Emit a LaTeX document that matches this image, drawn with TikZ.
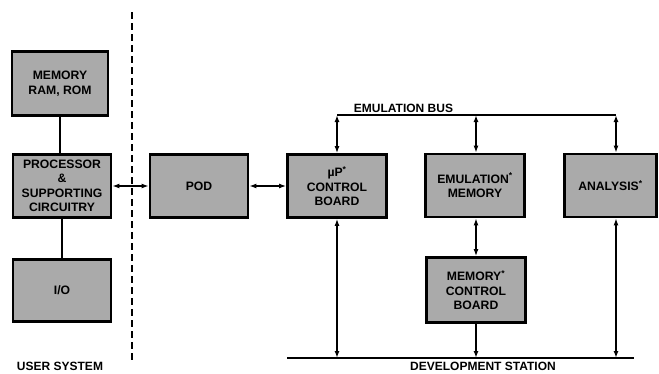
\documentclass[tikz,border=0pt]{standalone}
\usepackage{fontspec}
\setmainfont{Liberation Sans}
\usetikzlibrary{arrows.meta}
\definecolor{boxgray}{RGB}{170,170,170}

\begin{document}
\begin{tikzpicture}[
    x=1pt, y=-1pt,
    unit/.style={draw, line width=2.8pt, fill=boxgray, minimum width=98pt, minimum height=63pt,
        align=center, inner sep=2pt, font=\fontsize{12.2}{14.5}\selectfont\bfseries},
    link/.style={line width=1.8pt},
    both/.style={link, {Latex[length=7pt,width=5pt]}-{Latex[length=7pt,width=5pt]}},
    down/.style={link, -{Latex[length=7pt,width=5pt]}},
    side label/.style={font=\fontsize{12}{13}\selectfont\bfseries}
]
    \useasboundingbox (0,0) rectangle (659,373);

    % user system
    \node[unit, minimum width=96pt, minimum height=64pt] (mem) at (60,83.5) {MEMORY\\RAM, ROM};
    \node[unit] (proc) at (62,186) {PROCESSOR\\\&\\SUPPORTING\\CIRCUITRY};
    \node[unit, minimum height=62pt] (io) at (62,290.5) {I/O};
    \draw[link] (mem.south) -- (mem.south |- proc.north);
    \draw[link] (proc.south) -- (io.north);
    \node[side label, anchor=base] (user) at (60,370.5) {USER SYSTEM};

    % boundary
    \draw[line width=1.3pt, dash pattern=on 7pt off 4pt] (132,12) -- (132,363);

    % development station
    \node[unit] (pod) at (199,186) {POD};
    \node[unit, minimum width=99pt] (up) at (337,186) {µP\textsuperscript{*}\\CONTROL\\BOARD};
    \node[unit, minimum width=99pt] (em) at (475,185.5) {EMULATION\textsuperscript{*}\\MEMORY};
    \node[unit, minimum width=92pt] (an) at (610.5,185.5) {ANALYSIS\textsuperscript{*}};
    \node[unit, minimum width=99pt, minimum height=65pt] (mcb) at (476,290) {MEMORY\textsuperscript{*}\\CONTROL\\BOARD};
    \draw[both] (proc) -- (pod);
    \draw[both] (pod) -- (up);

    % emulation bus
    \coordinate (bus-w) at (337,115);
    \coordinate (bus-m) at (476,115);
    \coordinate (bus-e) at (616,115);
    \draw[link] (bus-w) -- (bus-e);
    \foreach \c/\b in {bus-w/up, bus-m/em, bus-e/an}
        \draw[both] (\c) -- (\c |- \b.north);
    \node[side label, anchor=base] (bus) at (403.5,112) {EMULATION BUS};

    % station line
    \coordinate (st-w) at (287,358);
    \coordinate (st-e) at (634,358);
    \draw[link] (st-w) -- (st-e);
    \draw[both] (up.south) -- (up.south |- st-w);
    \draw[both] (em.south -| bus-m) -- (mcb.north -| bus-m);
    \draw[down] (mcb.south -| bus-m) -- (bus-m |- st-w);
    \draw[both] (an.south -| bus-e) -- (bus-e |- st-w);
    \node[side label, anchor=base] (station) at (483,370.5) {DEVELOPMENT STATION};
\end{tikzpicture}
\end{document}
